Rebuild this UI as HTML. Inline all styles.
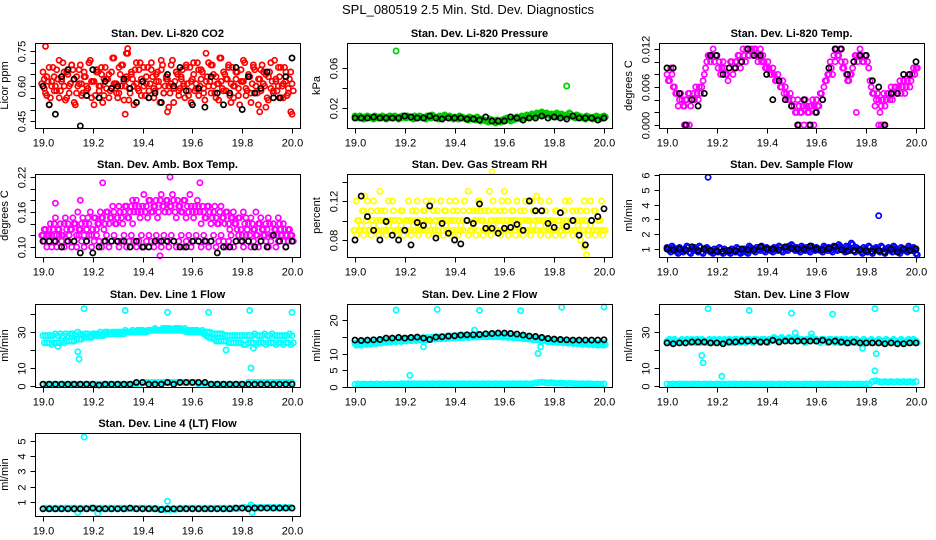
<!DOCTYPE html>
<html><head><meta charset="utf-8"><style>
html,body{margin:0;padding:0;background:#fff;}
svg{display:block;font-family:"Liberation Sans",sans-serif;}
</style></head><body>
<svg id="chart" width="936" height="540" viewBox="0 0 936 540">
<rect width="936" height="540" fill="#fff"/>
<text x="468" y="14" text-anchor="middle" font-size="13">SPL_080519  2.5 Min. Std. Dev. Diagnostics</text>
</svg>
<script>
// ---------- data ----------
const co2RedA=[0.66,0.57,0.62,0.55,0.68,0.60,0.63,0.58,0.70,0.54,0.65,0.61,0.67,0.52,0.60,0.69,0.57,0.64,0.59,0.71,0.62,0.56,0.66,0.60,0.53,0.68,0.63,0.58,0.72,0.61,0.55,0.65,0.69,0.60,0.74,0.57,0.63,0.67,0.59,0.70,0.62,0.56,0.68,0.61,0.64,0.58,0.66,0.53,0.69,0.60,0.63,0.57,0.71,0.62,0.65,0.59,0.67,0.55,0.61,0.68,0.63,0.58,0.70,0.60,0.66,0.54,0.64,0.62,0.69,0.57,0.61,0.72,0.59,0.65,0.63,0.56,0.68,0.60,0.66,0.52,0.62,0.70,0.58,0.64,0.61,0.67,0.57,0.63,0.69,0.60,0.55,0.66,0.62,0.71,0.58,0.64,0.60,0.68,0.56,0.63,0.61];
const co2RedB=[0.59,0.64,0.52,0.62,0.58,0.67,0.55,0.63,0.60,0.66,0.57,0.69,0.53,0.64,0.61,0.56,0.66,0.60,0.70,0.55,0.62,0.67,0.58,0.65,0.63,0.59,0.55,0.66,0.61,0.57,0.68,0.60,0.54,0.63,0.59,0.65,0.52,0.61,0.67,0.56,0.60,0.64,0.58,0.70,0.55,0.62,0.60,0.67,0.57,0.64,0.51,0.61,0.59,0.66,0.56,0.63,0.60,0.69,0.58,0.53,0.65,0.61,0.56,0.67,0.59,0.62,0.70,0.57,0.60,0.64,0.54,0.62,0.66,0.58,0.69,0.61,0.55,0.63,0.59,0.67,0.62,0.56,0.65,0.53,0.68,0.60,0.63,0.58,0.66,0.51,0.64,0.59,0.57,0.62,0.68,0.55,0.61,0.66,0.59,0.49,0.58];
const co2OutX=[19.01,19.34,19.33,20.0,19.87,19.5,19.335];
const co2OutY=[0.77,0.76,0.48,0.48,0.49,0.49,0.74];
const co2Black=[0.60,0.52,0.48,0.64,0.67,0.63,0.43,0.56,0.67,0.55,0.62,0.59,0.60,0.63,0.59,0.53,0.62,0.55,0.57,0.53,0.65,0.60,0.68,0.58,0.52,0.59,0.51,0.64,0.57,0.52,0.57,0.68,0.50,0.64,0.57,0.59,0.66,0.55,0.55,0.64,0.72];

const presGreen=[0.012,0.011,0.012,0.010,0.011,0.012,0.011,0.010,0.012,0.011,0.011,0.012,0.010,0.011,0.012,0.011,0.012,0.010,0.011,0.012,0.011,0.012,0.011,0.010,0.012,0.011,0.012,0.011,0.010,0.012,0.011,0.013,0.011,0.010,0.012,0.011,0.013,0.011,0.012,0.010,0.011,0.010,0.012,0.011,0.010,0.009,0.011,0.010,0.009,0.011,0.008,0.009,0.008,0.007,0.009,0.008,0.006,0.008,0.007,0.008,0.009,0.010,0.008,0.009,0.010,0.011,0.010,0.012,0.011,0.013,0.012,0.014,0.013,0.015,0.014,0.016,0.014,0.015,0.013,0.014,0.012,0.015,0.013,0.014,0.012,0.013,0.015,0.012,0.011,0.013,0.012,0.011,0.010,0.012,0.011,0.010,0.011,0.012,0.010,0.011,0.012];
const presOutX=[19.165,19.85];
const presOutY=[0.077,0.042];
const presBlack=[0.010,0.010,0.010,0.011,0.010,0.010,0.010,0.010,0.012,0.011,0.010,0.010,0.012,0.010,0.009,0.010,0.010,0.010,0.009,0.009,0.008,0.011,0.007,0.007,0.007,0.011,0.010,0.008,0.010,0.010,0.012,0.010,0.011,0.010,0.009,0.012,0.010,0.010,0.010,0.008,0.010];

const tempMagA=[0.008,0.007,0.008,0.006,0.005,0.004,0.004,0.003,0.004,0.005,0.004,0.004,0.005,0.006,0.006,0.008,0.010,0.011,0.011,0.010,0.011,0.010,0.009,0.009,0.008,0.009,0.010,0.009,0.010,0.011,0.010,0.011,0.012,0.011,0.012,0.012,0.011,0.011,0.010,0.010,0.009,0.009,0.008,0.008,0.007,0.007,0.006,0.005,0.005,0.004,0.003,0.003,0.002,0.003,0.002,0.003,0.003,0.002,0.003,0.003,0.004,0.003,0.005,0.006,0.007,0.008,0.009,0.011,0.012,0.011,0.010,0.009,0.008,0.007,0.008,0.010,0.011,0.011,0.011,0.010,0.011,0.009,0.006,0.005,0.004,0.004,0.003,0.005,0.004,0.005,0.006,0.005,0.006,0.006,0.005,0.007,0.006,0.008,0.007,0.009,0.009];
const tempMagB=[0.007,0.009,0.006,0.005,0.003,0.005,0.003,0.004,0.005,0.003,0.005,0.006,0.004,0.005,0.007,0.009,0.011,0.010,0.012,0.011,0.009,0.008,0.010,0.008,0.007,0.010,0.008,0.010,0.011,0.009,0.012,0.010,0.011,0.012,0.011,0.012,0.010,0.012,0.011,0.009,0.010,0.008,0.009,0.007,0.008,0.006,0.007,0.006,0.004,0.005,0.004,0.002,0.004,0.002,0.003,0.004,0.002,0.003,0.004,0.002,0.003,0.005,0.004,0.007,0.008,0.010,0.008,0.010,0.011,0.012,0.009,0.010,0.007,0.008,0.009,0.011,0.010,0.012,0.010,0.011,0.010,0.007,0.005,0.003,0.005,0.002,0.004,0.003,0.005,0.004,0.004,0.006,0.005,0.007,0.006,0.005,0.007,0.006,0.008,0.008,0.009];
const tempOutX=[19.07,19.08,19.09,19.53,19.55,19.57,19.59,19.85,19.86,19.87,19.76];
const tempOutY=[0,0,0,0,0,0,0,0,0,0,0.002];
const tempBlack=[0.009,0.009,0.005,0.000,0.004,0.003,0.005,0.011,0.011,0.008,0.009,0.009,0.010,0.012,0.011,0.011,0.008,0.004,0.007,0.004,0.003,0.000,0.004,0.000,0.002,0.004,0.009,0.012,0.012,0.008,0.010,0.011,0.011,0.007,0.006,0.000,0.005,0.005,0.008,0.008,0.010];

const ambUpper=[0.12,0.13,0.12,0.14,0.13,0.15,0.13,0.14,0.12,0.15,0.14,0.13,0.15,0.14,0.16,0.13,0.15,0.14,0.15,0.16,0.13,0.15,0.14,0.16,0.15,0.14,0.16,0.15,0.17,0.14,0.15,0.16,0.14,0.17,0.15,0.16,0.14,0.17,0.16,0.15,0.17,0.16,0.15,0.18,0.16,0.17,0.15,0.18,0.17,0.16,0.18,0.17,0.19,0.16,0.18,0.17,0.16,0.18,0.17,0.19,0.16,0.17,0.18,0.16,0.17,0.15,0.17,0.16,0.15,0.17,0.14,0.16,0.15,0.14,0.16,0.13,0.15,0.14,0.13,0.15,0.12,0.14,0.13,0.12,0.14,0.13,0.12,0.14,0.13,0.12,0.13,0.14,0.12,0.13,0.12,0.14,0.12,0.13,0.12,0.13,0.12];
const ambLower=[0.11,0.10,0.12,0.10,0.11,0.10,0.12,0.11,0.10,0.11,0.12,0.10,0.11,0.10,0.12,0.11,0.10,0.11,0.12,0.10,0.11,0.12,0.11,0.10,0.11,0.12,0.10,0.11,0.12,0.11,0.10,0.11,0.12,0.10,0.11,0.12,0.11,0.10,0.11,0.12,0.10,0.11,0.12,0.11,0.10,0.12,0.11,0.10,0.12,0.11,0.10,0.12,0.11,0.10,0.11,0.12,0.10,0.11,0.12,0.10,0.11,0.12,0.11,0.10,0.12,0.11,0.10,0.11,0.12,0.10,0.11,0.12,0.11,0.10,0.11,0.12,0.10,0.11,0.12,0.11,0.10,0.12,0.11,0.10,0.11,0.12,0.10,0.11,0.12,0.11,0.10,0.11,0.12,0.10,0.11,0.12,0.11,0.10,0.11,0.12,0.11];
const ambOutX=[19.05,19.15,19.24,19.51,19.63,19.47,19.13,19.36];
const ambOutY=[0.175,0.18,0.21,0.22,0.21,0.085,0.14,0.18];
const ambBlack=[0.11,0.11,0.11,0.10,0.11,0.11,0.09,0.11,0.09,0.10,0.11,0.11,0.11,0.11,0.10,0.11,0.10,0.10,0.11,0.11,0.11,0.11,0.10,0.10,0.11,0.11,0.11,0.11,0.09,0.10,0.10,0.11,0.11,0.11,0.10,0.11,0.10,0.12,0.11,0.10,0.11];

const rhYellowA=[0.09,0.10,0.09,0.11,0.09,0.12,0.09,0.10,0.09,0.11,0.10,0.09,0.11,0.10,0.09,0.12,0.10,0.09,0.10,0.11,0.09,0.10,0.09,0.11,0.10,0.12,0.09,0.10,0.11,0.09,0.10,0.12,0.09,0.11,0.10,0.09,0.11,0.10,0.12,0.09,0.10,0.11,0.09,0.10,0.12,0.10,0.11,0.09,0.10,0.11,0.12,0.10,0.11,0.09,0.13,0.10,0.11,0.09,0.10,0.12,0.11,0.10,0.09,0.11,0.10,0.12,0.09,0.10,0.11,0.09,0.10,0.12,0.11,0.09,0.10,0.11,0.09,0.10,0.12,0.10,0.09,0.11,0.10,0.09,0.11,0.10,0.12,0.09,0.10,0.11,0.09,0.10,0.12,0.11,0.09,0.10,0.11,0.09,0.10,0.12,0.09];
const rhYellowB=[0.085,0.09,0.095,0.085,0.10,0.09,0.085,0.095,0.09,0.085,0.10,0.09,0.085,0.095,0.09,0.10,0.085,0.09,0.095,0.085,0.09,0.10,0.085,0.095,0.09,0.085,0.095,0.09,0.10,0.085,0.09,0.095,0.085,0.09,0.10,0.085,0.095,0.09,0.085,0.10,0.09,0.085,0.095,0.09,0.10,0.085,0.09,0.095,0.085,0.09,0.10,0.085,0.095,0.09,0.085,0.095,0.09,0.10,0.085,0.09,0.095,0.085,0.09,0.10,0.085,0.095,0.09,0.085,0.10,0.09,0.085,0.095,0.09,0.10,0.085,0.09,0.095,0.085,0.09,0.10,0.085,0.095,0.09,0.085,0.095,0.09,0.10,0.085,0.09,0.095,0.08,0.09,0.10,0.085,0.095,0.09,0.085,0.10,0.09,0.085,0.09];
const rhOutX=[19.55,19.93,19.92,19.1,19.6,19.04,19.73];
const rhOutY=[0.15,0.065,0.073,0.13,0.13,0.125,0.125];
const rhBlack=[0.08,0.125,0.104,0.09,0.08,0.099,0.085,0.08,0.09,0.075,0.098,0.095,0.115,0.082,0.097,0.087,0.08,0.076,0.10,0.097,0.117,0.092,0.092,0.087,0.092,0.093,0.096,0.09,0.12,0.11,0.11,0.097,0.093,0.108,0.094,0.10,0.085,0.075,0.10,0.104,0.112];

const flowBlue=[1.1,0.9,1.2,1.0,0.8,1.1,0.9,1.0,1.2,0.8,1.0,1.1,0.9,1.2,0.8,1.0,1.1,0.9,0.8,1.0,0.9,1.1,0.8,1.0,0.9,0.8,1.0,0.9,1.1,0.8,0.9,1.0,0.8,1.2,1.0,0.9,1.1,1.0,1.2,0.9,1.1,1.0,0.9,1.1,1.0,1.2,0.9,1.1,1.0,1.2,1.3,1.0,1.1,0.9,1.2,1.0,1.1,0.9,1.2,1.0,1.1,1.0,0.9,1.2,1.0,1.1,0.9,1.2,1.0,1.3,1.1,0.9,1.2,1.0,1.4,0.9,1.1,1.0,0.8,1.1,0.9,1.2,0.8,1.0,1.1,0.9,1.2,0.8,1.0,1.1,0.9,1.2,1.0,0.8,1.1,1.0,0.9,1.2,1.0,1.1,0.7];
const flowOutX=[19.165,19.85];
const flowOutY=[5.85,3.25];
const flowBlack=[1.0,0.95,1.0,0.95,1.15,0.9,1.0,0.9,0.85,0.85,0.9,0.9,1.0,0.95,0.95,1.15,1.0,1.0,0.95,1.15,1.05,1.0,1.0,1.2,1.0,0.95,1.05,1.15,0.95,0.85,0.9,0.95,0.9,0.85,0.9,0.8,1.0,0.8,1.0,0.9,1.0];

const l1Upper=[28,28,28,28,28,29,28,29,28,29,28,29,29,28,30,29,28,29,29,28,29,29,29,30,29,30,30,29,30,30,30,30,30,31,30,30,31,30,31,31,31,30,31,31,31,32,31,31,32,32,32,32,31,32,32,32,31,32,31,31,31,31,31,30,31,30,30,30,29,29,29,29,29,28,28,28,28,28,28,28,28,28,28,28,28,29,28,28,28,29,28,28,29,28,28,28,28,28,28,29,28];
const l1Lower=[24,24,24,23,24,24,24,25,24,25,25,25,25,26,26,26,27,27,27,27,28,28,28,28,28,29,29,29,29,29,29,29,29,30,30,30,30,30,30,30,30,30,31,31,31,31,31,31,31,31,31,31,31,31,31,31,31,30,30,30,30,30,30,30,29,28,27,27,26,25,25,25,25,25,24,24,24,24,24,24,23,23,24,24,24,23,24,24,24,23,24,24,24,23,24,24,23,24,24,23,24];
const l1Low=[1,1,1,1,1,1,1,1,1,1,1,1,1,1,1,1,1,1,1,1,1,1,1,1,1,1,1,1,1,1,1,1,2,2,2,2,2,2,2,2,2,2,2,2,2,2,2,2,2,2,1,1,1,1,1,1,1,1,1,1,1,1,1,1,1,1,2,2,2,2,2,2,2,2,2,2,2,2,2,2,2];
const l1OutX=[19.165,19.33,19.5,19.665,19.83,20.0,19.14,19.145,19.735,19.835,19.845,19.06];
const l1OutY=[43,42,41,41,42,41,19,15,20,10,21,22];
const l1Black=[1,1,1,1,1,1,1,1,1,0.5,1,1,1,1,1,2,2,1,1,1,2,1,2,2,2,2,2,1,1,1,1,1,1,1,1,1,1,1,1,1,1];

const l2Main=[13.0,13.2,13.0,13.4,13.2,13.5,13.3,13.6,13.4,13.8,13.6,14.0,13.8,14.0,13.9,14.2,14.0,14.3,14.1,14.4,14.2,14.5,14.3,14.5,14.4,14.6,14.5,14.7,14.6,14.8,14.7,14.9,14.8,15.0,14.9,15.1,15.0,15.1,15.2,15.1,15.2,15.3,15.2,15.3,15.4,15.3,15.4,15.5,15.4,15.5,15.6,15.5,15.6,15.5,15.6,15.5,15.6,15.5,15.5,15.4,15.5,15.3,15.4,15.2,15.3,15.1,15.2,15.0,15.0,14.8,14.9,14.6,14.7,14.5,14.4,14.2,14.3,14.0,14.1,13.9,14.0,13.8,13.9,13.7,13.8,13.6,13.7,13.5,13.6,13.4,13.5,13.3,13.4,13.2,13.3,13.1,13.2,13.0,13.1,13.0,13.2];
const l2Low=[0.8,0.9,0.8,0.9,0.8,0.9,0.8,0.9,0.8,0.9,0.8,0.9,0.8,0.9,0.8,1.0,0.9,1.0,0.9,1.0,0.9,1.0,0.9,1.0,0.9,1.0,0.9,1.0,0.9,1.0,0.9,1.0,0.9,1.0,0.9,1.0,0.9,1.0,0.9,1.0,0.9,1.0,0.9,1.0,0.9,1.0,0.9,1.0,0.9,1.0,0.9,1.0,0.9,1.0,0.9,1.0,0.9,1.0,1.2,1.3,1.4,1.3,1.2,1.3,1.2,1.1,1.2,1.1,1.0,1.1,1.0,1.0,0.9,1.0,0.9,1.0,0.9,0.8,0.9,0.8,0.9];
const l2OutX=[19.165,19.33,19.5,19.665,19.83,20.0,19.22,19.275,19.735,19.745,19.48];
const l2OutY=[23,23.2,22.9,22.8,23.8,23.9,3.5,12,10,12,17];
const l2Black=[14.0,13.9,14.0,14.1,14.2,14.6,14.6,14.8,14.6,14.8,14.9,14.6,14.2,14.9,15.0,15.2,15.3,15.5,15.6,15.6,15.7,15.9,16.0,16.1,16.1,16.0,15.8,15.5,15.2,15.1,14.8,14.5,14.3,14.2,14.1,14.0,14.0,14.0,14.0,14.0,14.1];

const l3Main=[25,26,25,26,25,25,26,25,26,25,26,25,26,25,26,25,25,26,25,26,25,26,25,26,25,26,25,26,26,25,26,25,26,26,25,26,26,25,26,26,25,26,26,27,26,26,27,26,26,27,26,26,27,26,26,25,26,26,27,26,26,25,26,26,25,26,26,25,26,25,26,25,26,25,26,25,26,25,25,26,25,25,26,25,25,26,25,25,26,25,25,26,25,25,26,25,25,26,25,26,25];
const l3Low=[1.2,1.0,1.2,1.0,1.2,1.1,1.2,1.0,1.2,1.1,1.2,1.0,1.2,1.1,1.2,1.0,1.2,1.1,1.2,1.0,1.2,1.1,1.2,1.0,1.2,1.1,1.2,1.0,1.2,1.1,1.2,1.0,1.2,1.1,1.2,1.0,1.2,1.1,1.2,1.0,1.2,1.1,1.2,1.0,1.2,1.1,1.2,1.0,1.2,1.1,1.2,1.0,1.2,1.1,1.2,1.0,1.2,1.1,1.2,1.0,1.2,1.1,1.2,1.0,1.2,1.1,2.5,3.0,2.5,2.2,2.5,2.2,2.5,2.2,2.5,2.2,2.5,2.2,2.5,2.2,2.5];
const l3OutX=[19.165,19.33,19.5,19.665,19.835,20.0,19.14,19.145,19.22,19.785,19.84,19.835,19.515,19.58];
const l3OutY=[43,42,40.5,40,43,43,17,13,5.5,21,18,8.5,29.5,29];
const l3Black=[24,23.5,24,24,24.5,24.5,24.5,24,24,23.5,24.5,24.5,25,25,25,24.5,24.5,25.5,24.5,25,25,25,25,25,25,25.5,24.5,25,24.5,24,24.5,24,24,24,24,23.5,24,23.5,23.5,24,24];

const l4Main=[0.55,0.6,0.55,0.6,0.55,0.6,0.55,0.6,0.55,0.6,0.55,0.6,0.55,0.6,0.55,0.6,0.55,0.6,0.55,0.6,0.55,0.6,0.55,0.6,0.55,0.6,0.55,0.6,0.55,0.6,0.55,0.6,0.55,0.6,0.55,0.6,0.55,0.6,0.55,0.6,0.55,0.6,0.55,0.6,0.55,0.6,0.55,0.5,0.55,0.5,0.55,0.5,0.55,0.5,0.55,0.6,0.55,0.6,0.55,0.6,0.55,0.6,0.55,0.6,0.55,0.6,0.55,0.6,0.55,0.6,0.55,0.6,0.55,0.6,0.55,0.6,0.55,0.6,0.55,0.6,0.6,0.65,0.6,0.65,0.6,0.65,0.6,0.65,0.6,0.65,0.6,0.65,0.6,0.65,0.6,0.65,0.6,0.65,0.6,0.65,0.6];
const l4OutX=[19.165,19.5,19.14,19.22,19.835,19.84];
const l4OutY=[5.25,1.05,0.3,0.25,0.8,0.3];
const l4Black=[0.55,0.55,0.55,0.55,0.55,0.55,0.55,0.55,0.6,0.55,0.55,0.55,0.55,0.55,0.6,0.55,0.55,0.55,0.55,0.5,0.55,0.55,0.55,0.55,0.55,0.55,0.55,0.55,0.55,0.55,0.55,0.6,0.6,0.55,0.6,0.6,0.6,0.6,0.6,0.6,0.6];

const xTicks=[19.0,19.2,19.4,19.6,19.8,20.0];
const xTickLabels=["19.0","19.2","19.4","19.6","19.8","20.0"];

const co2Ticks=[0.45,0.5,0.55,0.6,0.65,0.7,0.75], co2Labels=["0.45","","","0.60","","","0.75"];
const presTicks=[0.02,0.04,0.06], presLabels=["0.02","","0.06"];
const tempTicks=[0,0.002,0.004,0.006,0.008,0.010,0.012], tempLabels=["0.000","","","0.006","","","0.012"];
const ambTicks=[0.10,0.12,0.14,0.16,0.18,0.20,0.22], ambLabels=["0.10","","","0.16","","","0.22"];
const rhTicks=[0.08,0.10,0.12,0.14], rhLabels=["0.08","","0.12",""];
const flowTicks=[1,2,3,4,5,6], flowLabels=["1","2","3","4","5","6"];
const l1Ticks=[0,10,20,30,40], l1Labels=["0","10","","30",""];
const l2Ticks=[0,5,10,15,20], l2Labels=["0","5","10","","20"];
const l3Ticks=[0,10,20,30,40], l3Labels=["0","10","","30",""];
const l4Ticks=[1,2,3,4,5], l4Labels=["1","2","3","4","5"];

// ---------- layout ----------
const colLeft=[35,347,659];
const rowTop=[43,174,304,433];
const rowH=[85,83,83,83];
const boxW=265;

const svg=document.getElementById('chart');
const NS='http://www.w3.org/2000/svg';
function mk(tag,attrs,parent){const e=document.createElementNS(NS,tag);for(const k in attrs)e.setAttribute(k,attrs[k]);(parent||svg).appendChild(e);return e;}

const panels=[
 {name:'co2',title:'Stan. Dev. Li-820 CO2',ylab:'Licor ppm',c:0,r:0,dom:[0.421,0.784],ticks:co2Ticks,labels:co2Labels,
  series:[{v:co2RedA,col:'#ff0000',off:0},{v:co2RedB,col:'#ff0000',off:1},{v:co2RedA,col:'#ff0000',off:-1,rev:true},{x:co2OutX,v:co2OutY,col:'#ff0000'},{v:co2Black,col:'#000'}]},
 {name:'pressure',title:'Stan. Dev. Li-820 Pressure',ylab:'kPa',c:1,r:0,dom:[0.0,0.085],ticks:presTicks,labels:presLabels,
  series:[{v:presGreen,col:'#00cc00',off:0},{v:presGreen,col:'#00cc00',off:1,dy:-0.001},{x:presOutX,v:presOutY,col:'#00cc00'},{v:presBlack,col:'#000'}]},
 {name:'temp',title:'Stan. Dev. Li-820 Temp.',ylab:'degrees C',c:2,r:0,dom:[-0.00047,0.01295],ticks:tempTicks,labels:tempLabels,
  series:[{v:tempMagA,col:'#ff00ff',off:0},{v:tempMagB,col:'#ff00ff',off:1},{x:tempOutX,v:tempOutY,col:'#ff00ff'},{v:tempBlack,col:'#000'}]},
 {name:'amb-box-temp',title:'Stan. Dev. Amb. Box Temp.',ylab:'degrees C',c:0,r:1,dom:[0.0829,0.2251],ticks:ambTicks,labels:ambLabels,
  series:[{v:ambUpper,col:'#ff00ff',off:0},{v:ambLower,col:'#ff00ff',off:1},{v:ambUpper,col:'#ff00ff',off:-1,rev:true},{x:ambOutX,v:ambOutY,col:'#ff00ff'},{v:ambBlack,col:'#000'}]},
 {name:'gas-rh',title:'Stan. Dev. Gas Stream RH',ylab:'percent',c:1,r:1,dom:[0.0626,0.1477],ticks:rhTicks,labels:rhLabels,
  series:[{v:rhYellowA,col:'#ffff00',off:0},{v:rhYellowB,col:'#ffff00',off:1},{v:rhYellowA,col:'#ffff00',off:-1,rev:true},{x:rhOutX,v:rhOutY,col:'#ffff00'},{v:rhBlack,col:'#000'}]},
 {name:'sample-flow',title:'Stan. Dev. Sample Flow',ylab:'ml/min',c:2,r:1,dom:[0.46,6.07],ticks:flowTicks,labels:flowLabels,
  series:[{v:flowBlue,col:'#0000ff',off:0},{v:flowBlue,col:'#0000ff',off:1,dy:-0.1},{x:flowOutX,v:flowOutY,col:'#0000ff'},{v:flowBlack,col:'#000'}]},
 {name:'line1-flow',title:'Stan. Dev. Line 1 Flow',ylab:'ml/min',c:0,r:2,dom:[-0.56,45.6],ticks:l1Ticks,labels:l1Labels,
  series:[{v:l1Upper,col:'#00ffff',off:0},{v:l1Lower,col:'#00ffff',off:1},{v:l1Low,col:'#00ffff',off:0},{x:l1OutX,v:l1OutY,col:'#00ffff'},{v:l1Black,col:'#000'}]},
 {name:'line2-flow',title:'Stan. Dev. Line 2 Flow',ylab:'ml/min',c:1,r:2,dom:[0,24.8],ticks:l2Ticks,labels:l2Labels,
  series:[{v:l2Main,col:'#00ffff',off:0},{v:l2Main,col:'#00ffff',off:1,dy:-0.5},{v:l2Low,col:'#00ffff',off:0},{x:l2OutX,v:l2OutY,col:'#00ffff'},{v:l2Black,col:'#000'}]},
 {name:'line3-flow',title:'Stan. Dev. Line 3 Flow',ylab:'ml/min',c:2,r:2,dom:[-0.5,45.6],ticks:l3Ticks,labels:l3Labels,
  series:[{v:l3Main,col:'#00ffff',off:0},{v:l3Main,col:'#00ffff',off:1,dy:-0.8},{v:l3Low,col:'#00ffff',off:0},{x:l3OutX,v:l3OutY,col:'#00ffff'},{v:l3Black,col:'#000'}]},
 {name:'line4-flow',title:'Stan. Dev. Line 4 (LT) Flow',ylab:'ml/min',c:0,r:3,dom:[0.08,5.52],ticks:l4Ticks,labels:l4Labels,
  series:[{v:l4Main,col:'#00ffff',off:0},{x:l4OutX,v:l4OutY,col:'#00ffff'},{v:l4Black,col:'#000'}]}
];

panels.forEach(p=>{
  const L=colLeft[p.c], T=rowTop[p.r], H=rowH[p.r];
  const g=mk('g',{});
  
  
  const xs=v=>L+(v-18.968)/1.064*boxW;
  const ys=v=>T+H-(v-p.dom[0])/(p.dom[1]-p.dom[0])*H;
  const t=mk('text',{x:L+boxW/2,y:T-6,'text-anchor':'middle','font-size':'11','font-weight':'bold'},g);
  t.textContent=p.title;
  
  
  const pts=mk('g',{fill:'none','stroke-width':'1.7'},g);
  
  
  p.series.forEach(s=>{
    const n=s.v.length;
    s.v.forEach((val,i)=>{
      const idx=s.rev? (n-1-i) : i;
      const xx=s.x? xs(s.x[i]) : xs(19+idx/(n-1))+(s.off||0)*1.3;
      const c=mk('circle',{cx:xx.toFixed(1),cy:ys(val+(s.dy||0)).toFixed(1),r:'2.6',stroke:s.col},pts);
      
      
    });
  });
  const b=mk('rect',{x:L+0.5,y:T+0.5,width:boxW,height:H,fill:'none',stroke:'#000','stroke-width':'1'},g);
  
  
  const xa=mk('g',{},g);
  
  
  const by=T+H+0.5;
  mk('line',{x1:xs(xTicks[0]),x2:xs(xTicks[xTicks.length-1]),y1:by,y2:by,stroke:'#000'},xa);
  xTicks.forEach((tv,i)=>{
    const X=Math.round(xs(tv))+0.5;
    mk('line',{x1:X,x2:X,y1:by,y2:by+5,stroke:'#000'},xa);
    const lt=mk('text',{x:X,y:by+18,'text-anchor':'middle','font-size':'11'},xa);
    lt.textContent=xTickLabels[i];
  });
  const ya=mk('g',{},g);
  
  
  const lx=L+0.5;
  mk('line',{x1:lx,x2:lx,y1:ys(p.ticks[0]),y2:ys(p.ticks[p.ticks.length-1]),stroke:'#000'},ya);
  p.ticks.forEach((tv,i)=>{
    const Y=Math.round(ys(tv))+0.5;
    mk('line',{x1:lx-5,x2:lx,y1:Y,y2:Y,stroke:'#000'},ya);
    if(p.labels[i]){
      const lt=mk('text',{x:lx-10,y:Y,'text-anchor':'middle','font-size':'11',transform:`rotate(-90 ${lx-10} ${Y})`},ya);
      lt.textContent=p.labels[i];
    }
  });
  const yl=mk('text',{x:L-27,y:T+H/2,'text-anchor':'middle','font-size':'11',transform:`rotate(-90 ${L-27} ${T+H/2})`},g);
  yl.textContent=p.ylab;
  
  
});
</script>
</body></html>
